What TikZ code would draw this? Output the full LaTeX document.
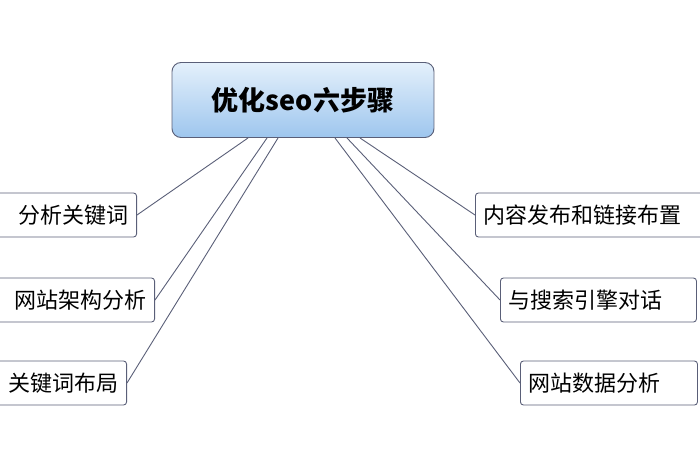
\documentclass[tikz,border=0pt]{standalone}
\usepackage{fontspec}
\setmainfont{Noto Sans CJK SC}
\definecolor{topblue}{HTML}{E4F0FB}
\definecolor{botblue}{HTML}{9EC6EE}
\definecolor{edge}{HTML}{5A5F78}

\begin{document}
\begin{tikzpicture}[x=1pt, y=-1pt]

\tikzset{
  stepbox/.style = {rectangle, rounded corners=3pt, draw=edge, line width=0.9pt,
    fill=white, minimum height=44pt, inner xsep=8pt, font=\fontsize{22}{22}\selectfont},
  leftbox/.style = {stepbox, anchor=east, align=right},
  rightbox/.style = {stepbox, anchor=west, align=left},
  rootbox/.style = {rectangle, rounded corners=9pt, draw=edge, line width=0.9pt,
    top color=topblue, bottom color=botblue, minimum width=262pt,
    minimum height=75pt, font=\bfseries\fontsize{27}{27}\selectfont},
  link/.style = {draw=edge, line width=0.9pt}
}

\useasboundingbox (0,0) rectangle (700,470);
\clip (0,0) rectangle (700,470);

\node[rootbox] (r) at (303,100) {优化seo六步骤};

\node[leftbox, text width=150pt] (a) at (137,215) {分析关键词};
\node[leftbox, text width=160pt] (b) at (155,300) {网站架构分析};
\node[leftbox, text width=140pt] (c) at (127,383) {关键词布局};

\node[rightbox, text width=240pt] (d) at (475,215) {内容发布和链接布置};
\node[rightbox, text width=180pt] (e) at (500,300) {与搜索引擎对话};
\node[rightbox, text width=161pt] (f) at (520,383) {网站数据分析};

\coordinate (ra) at (248,138);
\coordinate (rb) at (267,138);
\coordinate (rc) at (278,138);
\coordinate (rd) at (360,138);
\coordinate (re) at (347,138);
\coordinate (rf) at (335,138);

\draw[link] (ra) -- (a.east);
\draw[link] (rb) -- (b.east);
\draw[link] (rc) -- (c.east);
\draw[link] (rd) -- (d.west);
\draw[link] (re) -- (e.west);
\draw[link] (rf) -- (f.west);

\end{tikzpicture}
\end{document}
